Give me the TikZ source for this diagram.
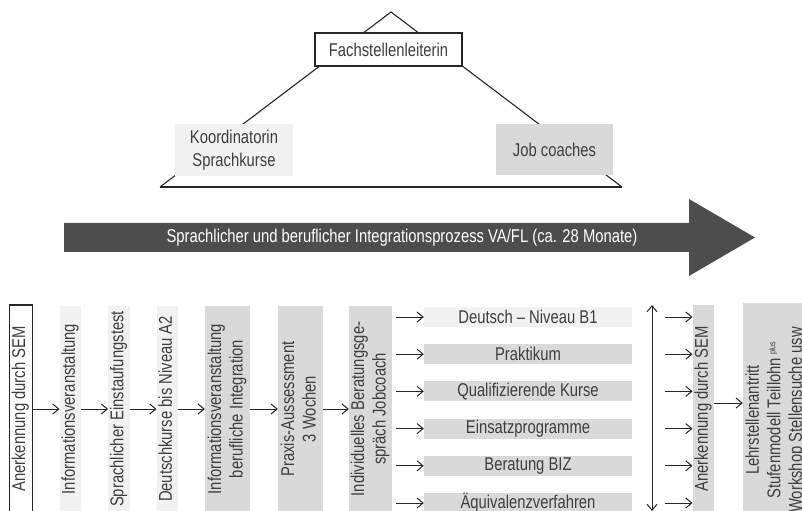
\documentclass[tikz,border=0pt]{standalone}
\usepackage{fontspec}
\usepackage{graphicx}
\setmainfont{Liberation Sans}[FakeStretch=0.8]
\usetikzlibrary{arrows.meta}
\definecolor{txtc}{RGB}{62,62,62}
\definecolor{lightg}{RGB}{240,241,240}
\definecolor{midg}{RGB}{217,217,217}
\definecolor{darkg}{RGB}{77,77,77}
\newcommand{\fs}{\fontsize{18.5bp}{21.5bp}\selectfont}
\newcommand{\vtext}[1]{\rotatebox{90}{\begin{tabular}{@{}c@{}}#1\end{tabular}}}
\tikzset{
  base/.style={inner sep=0pt, text=txtc, font=\fs},
  wbox/.style={base, draw=black!85, line width=1.2bp, fill=white},
  lbox/.style={base, fill=lightg},
  gbox/.style={base, fill=midg},
  arr/.style={draw=black!85, line width=1bp, -{Straight Barb[length=6bp,width=10bp]}},
  darr/.style={draw=black!85, line width=1bp, {Straight Barb[length=6bp,width=10bp]}-{Straight Barb[length=6bp,width=10bp]}},
  tri/.style={draw=black!85, line width=1.1bp},
}
\begin{document}
\begin{tikzpicture}[x=1bp,y=-1bp]
\useasboundingbox (0,0) rectangle (802,511);
\clip (0,0) rectangle (802,511);
% triangle
\coordinate (apex) at (391,12);
\coordinate (bl) at (160,187);
\coordinate (br) at (622,187);
\draw[tri] (bl) -- (apex) -- (br);
\draw[draw=black!85, line width=1.8bp] (bl) -- (br);
\node[wbox, minimum width=147bp, minimum height=33bp] (fl) at (388.5,49.5) {Fachstellenleiterin};
\node[lbox, minimum width=118bp, minimum height=52bp, align=center] (ko) at (234,150) {Koordinatorin\\[1.5bp]Sprachkurse};
\node[gbox, minimum width=117bp, minimum height=51bp] (jc) at (554.5,149.5) {Job coaches};
% big arrow
\fill[darkg] (64,223) -- (689,223) -- (689,199) -- (755,237.5) -- (689,276) -- (689,252) -- (64,252) -- cycle;
\node[base, text=white] (proc) at (402,238) {Sprachlicher und beruflicher Integrationsprozess VA/FL (ca. 28 Monate)};
% process chain
\node[wbox, minimum width=23bp, minimum height=208bp] (b1) at (20.8,409) {\vtext{Anerkennung durch SEM}};
\node[lbox, minimum width=21bp, minimum height=206bp] (b2) at (70.5,409) {\vtext{Informationsveranstaltung}};
\node[lbox, minimum width=20bp, minimum height=206bp] (b3) at (119,409) {\vtext{Sprachlicher Einstaufungstest}};
\node[lbox, minimum width=21bp, minimum height=206bp] (b4) at (167.5,409) {\vtext{Deutschkurse bis Niveau A2}};
\node[gbox, minimum width=45bp, minimum height=206bp] (b5) at (227.5,409) {\vtext{Informationsveranstaltung\\berufliche Integration}};
\node[gbox, minimum width=45bp, minimum height=206bp] (b6) at (300.5,409) {\vtext{Praxis-Aussessment\\3 Wochen}};
\node[gbox, minimum width=39bp, minimum height=206bp] (b7) at (370.5,409) {\vtext{Individuelles Beratungsge-\\spräch Jobcoach}};
\draw[arr] (b1.east) -- (b2.west);
\draw[arr] (b2.east) -- (b3.west);
\draw[arr] (b3.east) -- (b4.west);
\draw[arr] (b4.east) -- (b5.west);
\draw[arr] (b5.east) -- (b6.west);
\draw[arr] (b6.east) -- (b7.west);
% options
\node[lbox, minimum width=208bp, minimum height=20bp] (h1) at (528,317) {Deutsch -- Niveau B1};
\node[gbox, minimum width=208bp, minimum height=20bp] (h2) at (528,354.2) {Praktikum};
\node[gbox, minimum width=208bp, minimum height=20bp] (h3) at (528,391.4) {Qualifizierende Kurse};
\node[gbox, minimum width=208bp, minimum height=20bp] (h4) at (528,428.6) {Einsatzprogramme};
\node[gbox, minimum width=208bp, minimum height=20bp] (h5) at (528,465.8) {Beratung BIZ};
\node[gbox, minimum width=208bp, minimum height=20bp] (h6) at (528,503) {Äquivalenzverfahren};
\coordinate (ls) at (396,0);
\coordinate (rs) at (665,0);
\node[gbox, minimum width=21bp, minimum height=208bp] (sem) at (703.5,409) {\vtext{Anerkennung durch SEM}};
\node[gbox, minimum width=66bp, minimum height=234bp] (big) at (776,420) {\vtext{Lehrstellenantritt\\Stufenmodell Teillohn\,\raisebox{5bp}{\fontsize{9bp}{9bp}\selectfont plus}\\Workshop Stellensuche usw}};
\foreach \h in {h1,h2,h3,h4,h5,h6}{
  \draw[arr] (\h.west -| ls) -- (\h.west);
  \draw[arr] (\h.east -| rs) -- (\h.east -| sem.west);
}
\coordinate (dt) at (652,305);
\coordinate (db) at (652,511);
\draw[darr] (dt) -- (db);
\coordinate (sa) at ([yshift=6bp]sem.east);
\draw[arr] (sa) -- (sa -| big.west);
\end{tikzpicture}
\end{document}
